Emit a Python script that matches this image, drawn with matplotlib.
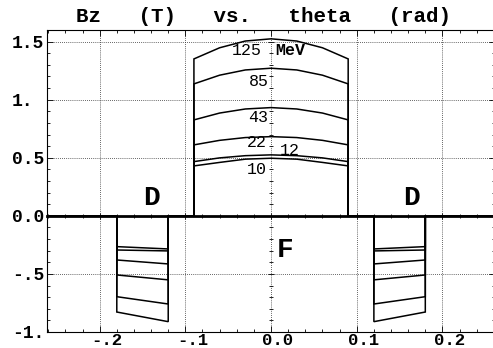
import numpy as np
import matplotlib
matplotlib.use("Agg")
import matplotlib.pyplot as plt
from matplotlib.ticker import MultipleLocator
from matplotlib.transforms import ScaledTranslation

plt.rcParams['font.family'] = ['Liberation Mono', 'DejaVu Sans Mono']

# data
energies = [10, 12, 22, 43, 85, 125]          # MeV
theta_lim = np.pi / 12
d_outer, d_inner = 0.18, 0.12                 # D magnet edges (rad)
f_edge = 0.09                                 # F magnet edge (rad)
theta_F = [-0.09, -0.06, -0.03, 0.0, 0.03, 0.06, 0.09]
B_F = {
    10:  [0.430, 0.460, 0.488, 0.496, 0.488, 0.460, 0.430],
    12:  [0.467, 0.499, 0.518, 0.525, 0.518, 0.499, 0.467],
    22:  [0.611, 0.650, 0.674, 0.682, 0.674, 0.650, 0.611],
    43:  [0.826, 0.885, 0.920, 0.932, 0.920, 0.885, 0.826],
    85:  [1.136, 1.211, 1.256, 1.271, 1.256, 1.211, 1.136],
    125: [1.351, 1.447, 1.505, 1.524, 1.505, 1.447, 1.351],
}
B_D_outer = {10: -0.265, 12: -0.294, 22: -0.380, 43: -0.509, 85: -0.696, 125: -0.828}
B_D_inner = {10: -0.285, 12: -0.302, 22: -0.414, 43: -0.551, 85: -0.759, 125: -0.911}

xticks = [-0.2, -0.1, 0.0, 0.1, 0.2]
xticklabels = ['-.2', '-.1', '0.0', '0.1', '0.2']
yticks = [-1.0, -0.5, 0.0, 0.5, 1.0, 1.5]
yticklabels = ['-1.', '-.5', '0.0', '0.5', '1.', '1.5']

fig = plt.figure(figsize=(4.93, 3.48), dpi=100)
pos = [46.7 / 493, 16 / 348, (495.4 - 46.7) / 493, (332 - 30) / 348]
ax = fig.add_axes(pos)

for e in energies:
    th = ([-theta_lim, -d_outer, -d_outer, -d_inner, -d_inner, -f_edge]
          + theta_F + [f_edge, d_inner, d_inner, d_outer, d_outer, theta_lim])
    b = ([0, 0, B_D_outer[e], B_D_inner[e], 0, 0]
         + B_F[e] + [0, 0, B_D_inner[e], B_D_outer[e], 0, 0])
    ax.plot(th, b, color='black', lw=1.1, solid_joinstyle='miter')

ax.set_xlim(-theta_lim, theta_lim)
ax.set_ylim(-1.0, 1.6)
ax.set_xticks(xticks)
ax.set_xticklabels(xticklabels)
ax.set_yticks(yticks)
ax.set_yticklabels(yticklabels)
ax.xaxis.set_minor_locator(MultipleLocator(0.02))
ax.yaxis.set_minor_locator(MultipleLocator(0.1))
ax.tick_params(which='both', direction='in', top=True, right=True, width=0.6,
               labelsize=13)
ax.tick_params(which='major', length=4)
ax.tick_params(which='minor', length=2.5)
ax.tick_params(axis='y', pad=25)
ax.tick_params(axis='x', pad=0.5, labelsize=12.5)
for lab in ax.get_yticklabels():
    lab.set_ha('left')
    lab.set_fontweight('bold')
for lab in ax.get_xticklabels():
    lab.set_fontweight('bold')
    lab.set_transform(lab.get_transform()
                      + ScaledTranslation(7 / 100, 0, fig.dpi_scale_trans))
ax.grid(which='major', ls=(0, (1, 1.5)), lw=0.6, color='0.2')
for sp in ax.spines.values():
    sp.set_linewidth(0.8)

# axes through the origin
ax0 = fig.add_axes(pos, sharex=ax, sharey=ax)
ax0.patch.set_visible(False)
ax0.spines['top'].set_visible(False)
ax0.spines['right'].set_visible(False)
ax0.spines['left'].set_position(('data', 0))
ax0.spines['bottom'].set_position(('data', 0))
ax0.spines['left'].set_visible(False)
ax0.spines['bottom'].set_linewidth(2.0)
ax0.tick_params(which='both', direction='inout', labelleft=False,
                labelbottom=False, width=0.6)
ax0.tick_params(which='major', length=5)
ax0.tick_params(which='minor', length=3.5)

fig.text(263.5 / 493, 1 - 17 / 348, 'Bz   (T)   vs.   theta   (rad)',
         ha='center', va='center', fontsize=15, fontweight='bold')

# curve labels
lab_kw = dict(fontsize=12, va='center')
ax.text(-0.011, 1.423, '125', ha='right', **lab_kw)
ax.text(0.005, 1.423, 'MeV', ha='left', fontweight='bold', **lab_kw)
ax.text(-0.003, 1.156, '85', ha='right', **lab_kw)
ax.text(-0.003, 0.843, '43', ha='right', **lab_kw)
ax.text(-0.005, 0.630, '22', ha='right', **lab_kw)
ax.text(0.0105, 0.562, '12', ha='left', **lab_kw)
ax.text(-0.005, 0.395, '10', ha='right', **lab_kw)

ax.text(-0.139, 0.152, 'D', ha='center', va='center', fontsize=20, fontweight='bold')
ax.text(0.164, 0.152, 'D', ha='center', va='center', fontsize=20, fontweight='bold')
ax.text(0.0163, -0.295, 'F', ha='center', va='center', fontsize=20, fontweight='bold')

fig.savefig('out.png', dpi=100)
